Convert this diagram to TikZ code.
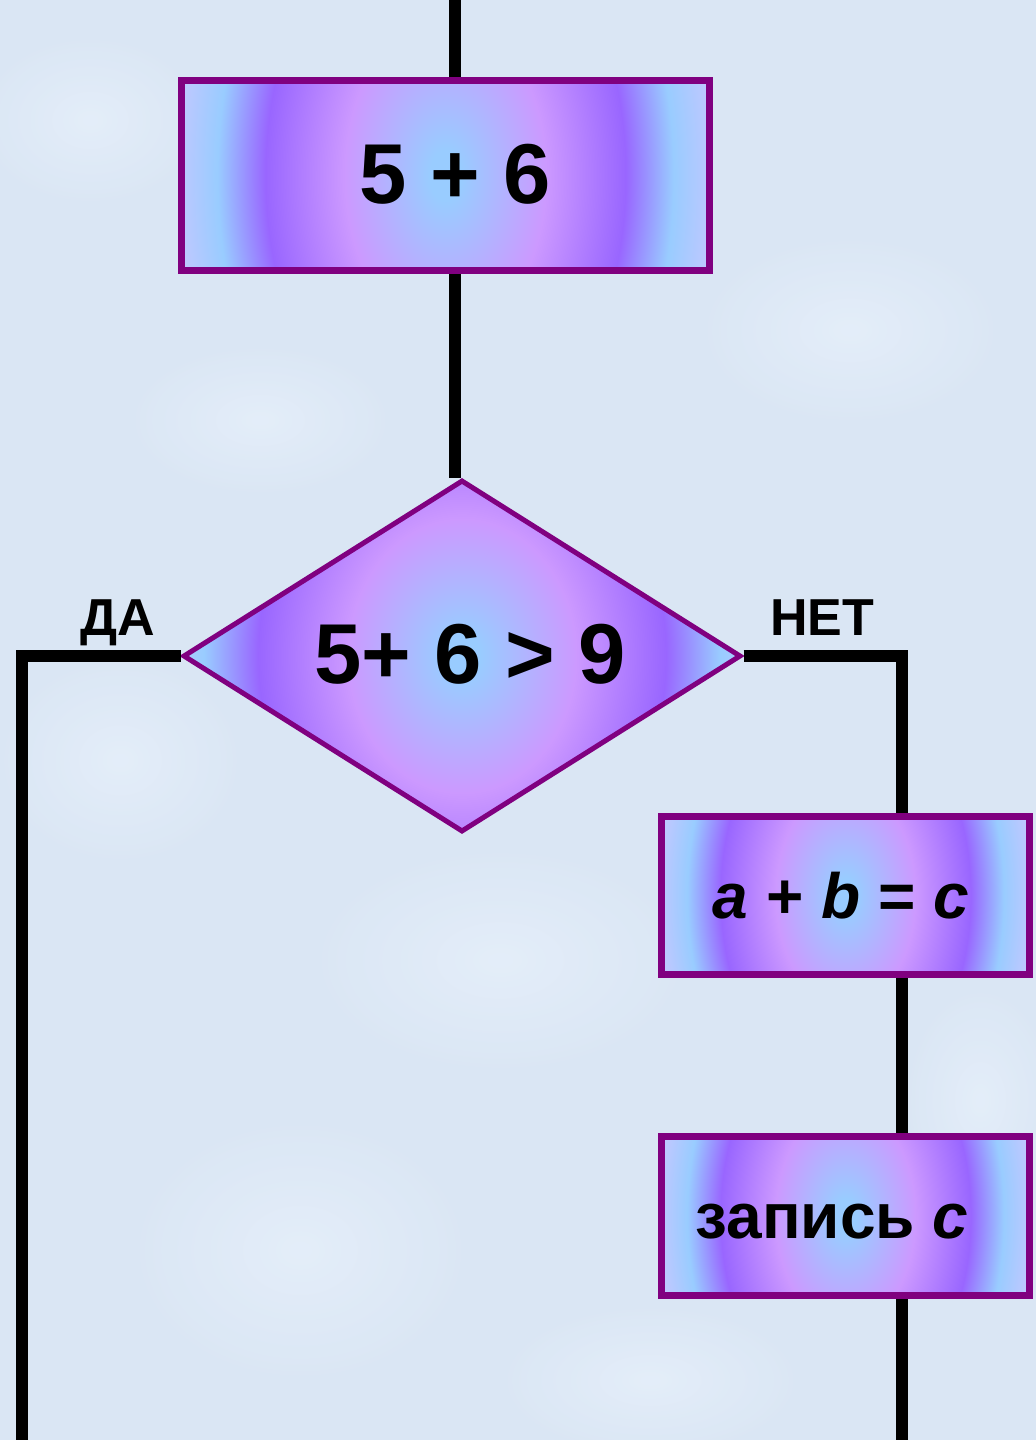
\documentclass[tikz,border=0pt]{standalone}
\usepackage{fontspec}
\setmainfont{Liberation Sans}
\usetikzlibrary{shapes.geometric}
\definecolor{bgcol}{HTML}{DAE6F4}
\definecolor{bglight}{HTML}{E8F1FC}
\definecolor{cblue}{HTML}{99CCFF}
\definecolor{cpink}{HTML}{CC99FF}
\definecolor{cpurple}{HTML}{9966FF}
\definecolor{cedge}{HTML}{BCC8FF}
\definecolor{bord}{HTML}{800080}
\pgfdeclareradialshading{ring}{\pgfpoint{0bp}{0bp}}{color(0bp)=(cblue); color(1.5bp)=(cblue); color(9.5bp)=(cpink); color(17bp)=(cpurple); color(21.5bp)=(cblue); color(25bp)=(cedge); color(50bp)=(cedge)}
\tikzset{
  ringfill/.style 2 args={path picture={\shade[shading=ring] ([shift={(-#1,-#2)}]path picture bounding box.center) rectangle ([shift={(#1,#2)}]path picture bounding box.center);}},
  procbox/.style={draw=bord, line width=3.5pt, rectangle, inner sep=0pt},
  decbox/.style={draw=bord, line width=2.5pt, diamond, inner sep=0pt},
  flow/.style={line width=6pt, black, line join=miter},
  bigtxt/.style={inner sep=0pt, anchor=base, font=\bfseries\fontsize{42.5pt}{50pt}\selectfont},
  midtxt/.style={inner sep=0pt, anchor=base, font=\bfseries\fontsize{32pt}{38pt}\selectfont},
  lbltxt/.style={inner sep=0pt, anchor=base, font=\bfseries\fontsize{26pt}{30pt}\selectfont},
  patch/.style={inner color=bglight, outer color=bgcol, opacity=0.7},
}
\begin{document}
\begin{tikzpicture}[x=0.5pt, y=-0.5pt]
\useasboundingbox (0,0) rectangle (1036,1440);
\fill[bgcol] (0,0) rectangle (1036,1440);
% background mottling
\shade[patch] (90,120) ellipse (120 and 90);
\shade[patch] (850,330) ellipse (160 and 100);
\shade[patch] (260,420) ellipse (140 and 80);
\shade[patch] (120,760) ellipse (130 and 110);
\shade[patch] (500,960) ellipse (200 and 120);
\shade[patch] (300,1250) ellipse (180 and 140);
\shade[patch] (980,1100) ellipse (80 and 120);
\shade[patch] (650,1380) ellipse (160 and 80);
% nodes
\node[procbox, ringfill={265}{420}, minimum width=264pt, minimum height=95pt] (box1) at (445.5,175.5) {};
\node[decbox, ringfill={300}{360}, minimum width=279pt, minimum height=176pt] (dia) at (462,656) {};
\node[procbox, ringfill={180}{290}, minimum width=184pt, minimum height=79pt] (box2) at (845.5,895.5) {};
\node[procbox, ringfill={180}{290}, minimum width=184pt, minimum height=79.5pt] (box3) at (845.5,1216) {};
% texts
\node[bigtxt] (t1) at (455,203) {5 + 6};
\node[bigtxt] (t2) at (470,683) {5+ 6 > 9};
\node[midtxt] (t3) at (841,918) {\textit{a} + \textit{b} = \textit{c}};
\node[midtxt] (t4) at (832,1238) {запись \textit{c}};
\node[lbltxt] (lda) at (118,635) {ДА};
\node[lbltxt] (lnet) at (822,635) {НЕТ};
% connector coordinates
\coordinate (ctop) at (454.5,-5);
\coordinate (cleft) at (22,1450);
\coordinate (cright) at (902,-5);
\coordinate (crightbot) at (902,1450);
% connectors
\draw[flow] (ctop) -- (ctop |- box1.north);
\draw[flow] (ctop |- box1.south) -- (ctop |- dia.north);
\draw[flow] (dia.west) -| (cleft);
\draw[flow] (dia.east) -| (cright |- box2.north);
\draw[flow] (cright |- box2.south) -- (cright |- box3.north);
\draw[flow] (cright |- box3.south) -- (crightbot);
\end{tikzpicture}
\end{document}
